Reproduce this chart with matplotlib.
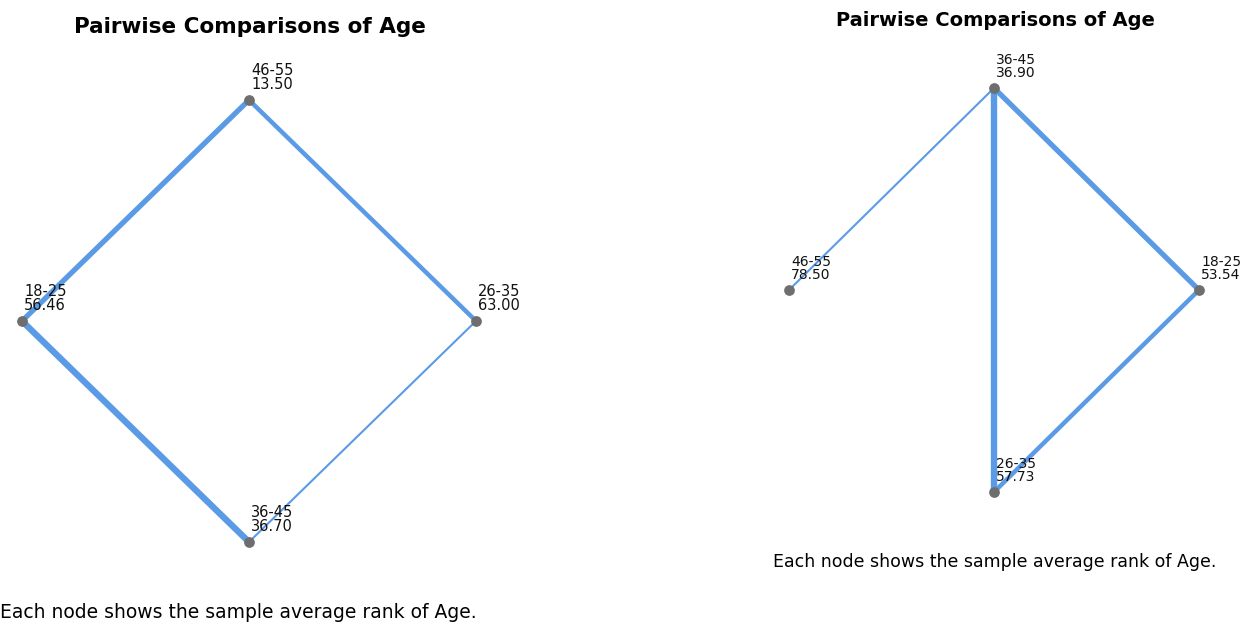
import matplotlib.pyplot as plt

# node labels and average ranks, per panel
left_groups = ['46-55', '18-25', '26-35', '36-45']
left_ranks = [13.50, 56.46, 63.00, 36.70]
left_spots = ['top', 'left', 'right', 'bottom']
left_edges = [('46-55', '18-25'), ('46-55', '26-35'), ('18-25', '36-45'), ('26-35', '36-45')]
left_widths = [3.8, 3.2, 4.6, 1.5]

right_groups = ['36-45', '46-55', '18-25', '26-35']
right_ranks = [36.90, 78.50, 53.54, 57.73]
right_spots = ['top', 'left', 'right', 'bottom']
right_edges = [('36-45', '46-55'), ('36-45', '26-35'), ('36-45', '18-25'), ('18-25', '26-35')]
right_widths = [1.5, 4.6, 3.8, 3.2]

spot_xy = {'top': (0, 1), 'left': (-1, 0), 'right': (1, 0), 'bottom': (0, -1)}
edge_color = '#5b9be6'
node_color = '#6e6e6e'

W, H = 1248, 624
fig = plt.figure(figsize=(W / 100, H / 100), dpi=100)


def draw_panel(box, groups, ranks, spots, edges, widths, fs):
    # box is pixel extent of the diamond: x0, x1, ytop, ybottom
    x0, x1, yt, yb = box
    ax = fig.add_axes([x0 / W, (H - yb) / H, (x1 - x0) / W, (yb - yt) / H])
    ax.set_xlim(-1, 1)
    ax.set_ylim(-1, 1)
    ax.axis('off')
    pos = {g: spot_xy[s] for g, s in zip(groups, spots)}
    for (a, b), lw in zip(edges, widths):
        ax.plot([pos[a][0], pos[b][0]], [pos[a][1], pos[b][1]],
                color=edge_color, lw=lw, solid_capstyle='round', clip_on=False, zorder=2)
    for g, r in zip(groups, ranks):
        x, y = pos[g]
        ax.scatter([x], [y], s=45, color=node_color, zorder=3, clip_on=False)
        ax.annotate(f'{g}\n{r:.2f}', (x, y), xytext=(1.5, 5.5), textcoords='offset points',
                    ha='left', va='bottom', fontsize=fs, linespacing=0.95,
                    color='#111111', zorder=4)
    return ax


draw_panel((22, 476, 100, 542), left_groups, left_ranks, left_spots,
           left_edges, left_widths, 10.5)
draw_panel((789, 1199, 88, 492), right_groups, right_ranks, right_spots,
           right_edges, right_widths, 10)

fig.text(250 / W, 1 - 27 / H, 'Pairwise Comparisons of Age', ha='center', va='center',
         fontsize=15.5, fontweight='bold')
fig.text(995 / W, 1 - 21 / H, 'Pairwise Comparisons of Age', ha='center', va='center',
         fontsize=14, fontweight='bold')

fig.text(0, 1 - 612 / H, 'Each node shows the sample average rank of Age.', ha='left',
         va='center', fontsize=13.5)
fig.text(995 / W, 1 - 562 / H, 'Each node shows the sample average rank of Age.',
         ha='center', va='center', fontsize=12.5)

fig.savefig('out.png', dpi=100)
